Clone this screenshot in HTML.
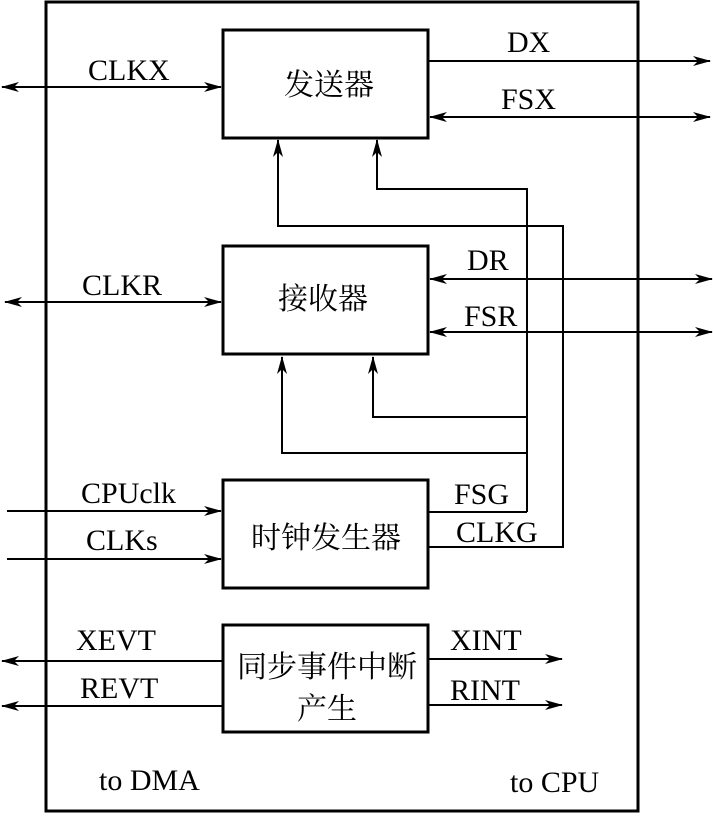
<!DOCTYPE html>
<html><head><meta charset="utf-8"><style>body{margin:0;background:#fff}svg text{font-family:"Liberation Serif","Noto Serif CJK SC",serif;fill:#000}</style></head><body>
<svg width="713" height="813" viewBox="0 0 713 813" xmlns="http://www.w3.org/2000/svg">
<defs><marker id="a" markerWidth="18" markerHeight="10" refX="17" refY="5" orient="auto-start-reverse" markerUnits="userSpaceOnUse"><path d="M0,0 L18,5 L0,10 L5,5 Z" fill="#000"/></marker></defs>
<g fill="none" stroke="#000">
<rect x="46" y="2" width="592" height="809" stroke-width="3"/>
<rect x="223" y="30" width="205" height="108" stroke-width="3"/>
<rect x="223" y="246" width="205" height="108" stroke-width="3"/>
<rect x="223" y="480" width="205" height="108" stroke-width="3"/>
<rect x="223" y="625" width="205" height="107" stroke-width="3"/>
<g stroke-width="2">
<line x1="2" y1="87" x2="221" y2="87" marker-start="url(#a)" marker-end="url(#a)"/>
<line x1="429" y1="61" x2="710" y2="61" marker-end="url(#a)"/>
<line x1="430" y1="117" x2="710" y2="117" marker-start="url(#a)" marker-end="url(#a)"/>
<line x1="5" y1="302" x2="221" y2="302" marker-start="url(#a)" marker-end="url(#a)"/>
<line x1="430" y1="279" x2="712" y2="279" marker-start="url(#a)" marker-end="url(#a)"/>
<line x1="430" y1="332" x2="712" y2="332" marker-start="url(#a)" marker-end="url(#a)"/>
<polyline points="527,512 429,512"/>
<polyline points="527,512 527,189 377,189 377,140" marker-end="url(#a)"/>
<polyline points="429,547 563,547 563,226 278,226 278,140" marker-end="url(#a)"/>
<polyline points="527,417 373,417 373,357" marker-end="url(#a)"/>
<polyline points="527,453 282,453 282,357" marker-end="url(#a)"/>
<line x1="7" y1="511" x2="221" y2="511" marker-end="url(#a)"/>
<line x1="7" y1="559" x2="221" y2="559" marker-end="url(#a)"/>
<line x1="222" y1="661" x2="2" y2="661" marker-end="url(#a)"/>
<line x1="222" y1="706" x2="2" y2="706" marker-end="url(#a)"/>
<line x1="429" y1="659" x2="562" y2="659" marker-end="url(#a)"/>
<line x1="429" y1="705" x2="562" y2="705" marker-end="url(#a)"/>
</g></g>
<g font-size="30">
<text x="88" y="80">CLKX</text>
<text x="507" y="52">DX</text>
<text x="501" y="109">FSX</text>
<text x="82" y="295">CLKR</text>
<text x="467" y="270">DR</text>
<text x="464" y="326">FSR</text>
<text x="81" y="503">CPUclk</text>
<text x="86" y="550">CLKs</text>
<text x="454" y="504">FSG</text>
<text x="456" y="542">CLKG</text>
<text x="76" y="650">XEVT</text>
<text x="80" y="698">REVT</text>
<text x="450" y="650">XINT</text>
<text x="450" y="700">RINT</text>
<text x="99" y="790">to DMA</text>
<text x="510" y="792">to CPU</text>
</g>
<g font-size="30" font-family="Noto Serif CJK SC" text-anchor="middle">
<text x="329" y="95">发送器</text>
<text x="323" y="309">接收器</text>
<text x="326" y="548">时钟发生器</text>
<text x="327" y="677">同步事件中断</text>
<text x="327" y="719">产生</text>
</g>
</svg>
</body></html>
